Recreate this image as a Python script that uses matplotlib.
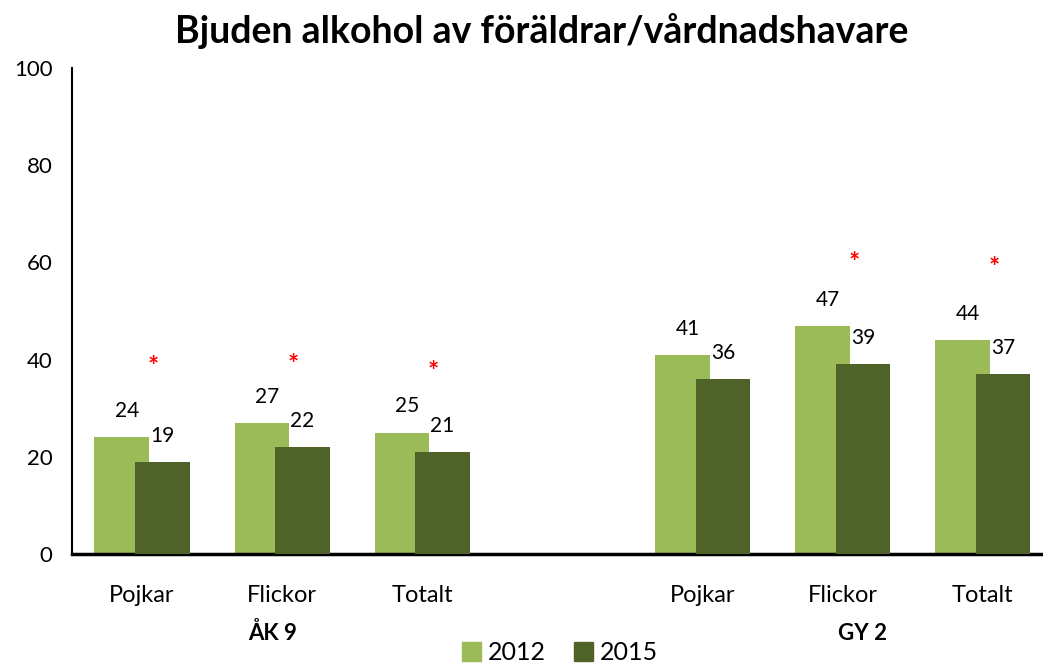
import numpy as np
import matplotlib.pyplot as plt
from matplotlib.patches import Patch

plt.rcParams['font.family'] = ['Lato', 'DejaVu Sans']

categories = ["Pojkar", "Flickor", "Totalt", "Pojkar", "Flickor", "Totalt"]
groups = ["ÅK 9", "GY 2"]
values_2012 = [24, 27, 25, 41, 47, 44]
values_2015 = [19, 22, 21, 36, 39, 37]
star_heights = [40, 40.5, 39, None, 61.5, 60.5]

# slot positions, leaving an empty slot between the two groups
x = np.array([0, 1, 2, 4, 5, 6])
c2012 = "#9BBB59"
c2015 = "#4F6228"

fig = plt.figure(figsize=(10.43, 6.64), dpi=100)
ax = fig.add_axes([72 / 1043, 1 - 554 / 664, (1043 - 72) / 1043, (554 - 68) / 664])

w = 0.39
off = 0.145
ax.bar(x - off, values_2012, w, color=c2012, zorder=2)
ax.bar(x + off, values_2015, w, color=c2015, zorder=3)

for xi, v1, v2 in zip(x, values_2012, values_2015):
    ax.text(xi - off + 0.04, v1 + 3.3, str(v1), ha="center", va="bottom", fontsize=15)
    ax.text(xi + off, v2 + 3.3, str(v2), ha="center", va="bottom", fontsize=15)

for xi, s in zip(x, star_heights):
    if s is not None:
        ax.text(xi + 0.08, s - 1.6, "*", color="red", ha="center", va="center",
                fontsize=19, fontweight="bold")

ax.set_xlim(-0.5, 6.43)
ax.set_ylim(0, 100)
ax.set_yticks(range(0, 101, 20))
ax.set_xticks(x)
ax.set_xticklabels(categories, fontsize=17)
ax.tick_params(axis="both", length=0)
ax.tick_params(axis="x", pad=22, labelsize=17)
ax.tick_params(axis="y", pad=14, labelsize=16)
for sp in ["top", "right"]:
    ax.spines[sp].set_visible(False)
ax.spines["left"].set_linewidth(1.5)
ax.spines["bottom"].set_linewidth(2.5)

for gx, g in zip([0.93, 5.14], groups):
    ax.text(gx, -16.3, g, ha="center", va="center", fontsize=16,
            fontweight="bold", transform=ax.transData)

fig.text(0.519, 0.953, "Bjuden alkohol av föräldrar/vårdnadshavare",
         ha="center", va="center", fontsize=27, fontweight="bold")

handles = [Patch(color=c2012, label="2012"), Patch(color=c2015, label="2015")]
fig.legend(handles=handles, loc="center", bbox_to_anchor=(0.537, 0.017),
           ncol=2, frameon=False, fontsize=18, handlelength=0.75,
           handleheight=0.75, handletextpad=0.3, columnspacing=1.1)

fig.savefig("out.png", dpi=100)
